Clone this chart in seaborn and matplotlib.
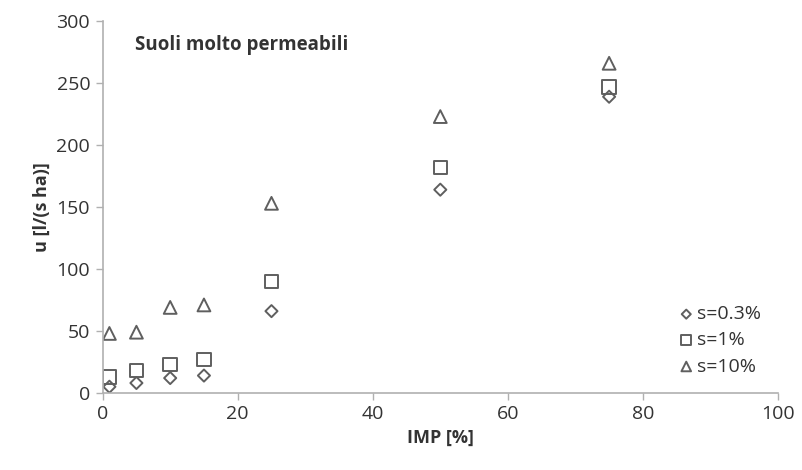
import matplotlib
matplotlib.use("Agg")
import matplotlib.pyplot as plt
import seaborn as sns
import pandas as pd

imp = [1, 5, 10, 15, 25, 50, 75]
u_s03 = [5, 8, 12, 14, 66, 164, 239]
u_s1 = [13, 18, 23, 27, 90, 182, 247]
u_s10 = [48, 49, 69, 71, 153, 223, 266]
labels = ["s=0.3%", "s=1%", "s=10%"]
markers = ["D", "s", "^"]
sizes = [38, 95, 85]

sns.set_style("white")
plt.rcParams["font.family"] = ["Open Sans", "DejaVu Sans"]

fig = plt.figure(figsize=(8.02, 4.70), dpi=100)
ax = fig.add_axes([0.128, 0.164, 0.842, 0.791])

edge = "#5f5f5f"
for vals, lab, m, sz in zip([u_s03, u_s1, u_s10], labels, markers, sizes):
    df = pd.DataFrame({"IMP": imp, "u": vals})
    sns.scatterplot(data=df, x="IMP", y="u", marker=m, s=sz, ax=ax,
                    facecolors="none", edgecolors=edge, linewidths=1.4,
                    label=lab)

ax.set_xlim(0, 100)
ax.set_ylim(0, 300)
ax.set_xticks(range(0, 101, 20))
ax.set_yticks(range(0, 301, 50))
ax.tick_params(axis="both", labelsize=14, colors="#333333", length=5,
               width=1, direction="out", left=True, bottom=True, color="#b0b0b0",
               pad=4)
for sp in ["top", "right"]:
    ax.spines[sp].set_visible(False)
for sp in ["left", "bottom"]:
    ax.spines[sp].set_color("#b0b0b0")
    ax.spines[sp].set_linewidth(1.2)

ax.set_xlabel("IMP [%]", fontsize=13, fontweight="bold", color="#333333", labelpad=4)
ax.set_ylabel("u [l/(s ha)]", fontsize=13, fontweight="bold", color="#333333", labelpad=4)
ax.text(0.048, 0.935, "Suoli molto permeabili", transform=ax.transAxes,
        fontsize=13.5, fontweight="bold", color="#333333", va="center")

leg = ax.legend(loc="lower right", frameon=False, fontsize=14, handletextpad=0.05,
                labelspacing=0.42, borderaxespad=0.3, handlelength=1.0,
                markerscale=0.75, bbox_to_anchor=(0.995, 0.01))
for t in leg.get_texts():
    t.set_color("#333333")

fig.savefig("out.png", dpi=100, facecolor="white")
